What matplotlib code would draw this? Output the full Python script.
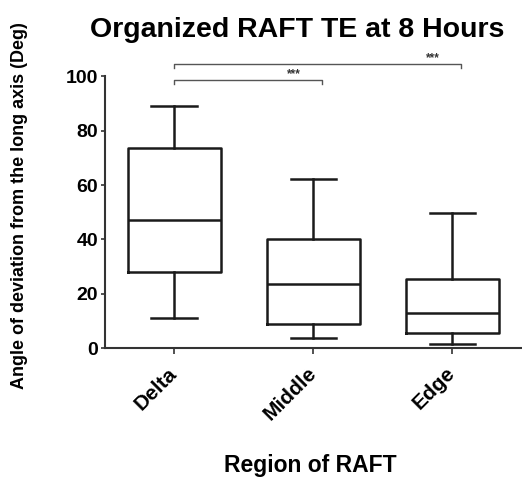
import matplotlib.pyplot as plt

# box statistics (degrees)
regions = ["Delta", "Middle", "Edge"]
whislo = [11.0, 3.7, 1.5]
q1 = [27.9, 8.8, 5.5]
med = [47.1, 23.5, 12.9]
q3 = [73.5, 40.1, 25.4]
whishi = [89.0, 62.1, 49.6]

# significance comparisons: (group a, group b, bar height)
comparisons = [(1, 2, 98.5), (1, 3, 104.4)]
sig_labels = ["***", "***"]

plt.rcParams["font.family"] = ["Liberation Sans", "DejaVu Sans"]

fig = plt.figure(figsize=(5.22, 4.87), dpi=100)
ax = fig.add_axes([0.201, 0.285, 0.799, 0.5585])

stats = []
for i, name in enumerate(regions):
    stats.append({
        "label": name,
        "whislo": whislo[i],
        "q1": q1[i],
        "med": med[i],
        "q3": q3[i],
        "whishi": whishi[i],
        "fliers": [],
    })

lw = 1.8
positions = [1, 2, 3]
ax.bxp(
    stats,
    positions=positions,
    widths=0.67,
    capwidths=0.33,
    showfliers=False,
    boxprops=dict(color="#1a1a1a", linewidth=lw),
    medianprops=dict(color="#1a1a1a", linewidth=lw),
    whiskerprops=dict(color="#1a1a1a", linewidth=lw),
    capprops=dict(color="#1a1a1a", linewidth=lw),
)

ax.set_xlim(0.5, 3.5)
ax.set_ylim(0, 100)
ax.set_yticks([0, 20, 40, 60, 80, 100])
ax.set_xticks(positions)
ax.set_xticklabels(regions, rotation=45, ha="right", va="center",
                   rotation_mode="anchor", fontsize=15, fontweight="bold")
for lab in ax.get_yticklabels():
    lab.set_fontsize(14)
    lab.set_fontweight("bold")

ax.spines["top"].set_visible(False)
ax.spines["right"].set_visible(False)
ax.spines["left"].set_linewidth(1.5)
ax.spines["bottom"].set_linewidth(1.5)
ax.spines["left"].set_color("#333333")
ax.spines["bottom"].set_color("#333333")
ax.tick_params(axis="y", length=3, width=1.2, color="#333333", pad=2)
ax.tick_params(axis="x", length=4, width=1.2, color="#333333", pad=12)

# significance bars
for (a, b, h), txt in zip(comparisons, sig_labels):
    ax.plot([a, a, b + 0.06, b + 0.06], [h - 1.2, h, h, h - 1.2],
            color="#555555", linewidth=1.0, clip_on=False)
    ax.text(b - 0.14, h + 0.2, txt, ha="center", va="bottom",
            fontsize=8.5, fontweight="bold", color="#333333")

fig.text(0.569, 0.939, "Organized RAFT TE at 8 Hours", ha="center", va="center",
         fontsize=20.5, fontweight="bold")
fig.text(0.037, 0.577, "Angle of deviation from the long axis (Deg)", rotation=90,
         ha="center", va="center", fontsize=13, fontweight="bold")
fig.text(0.594, 0.045, "Region of RAFT", ha="center", va="center",
         fontsize=16.5, fontweight="bold")

fig.savefig("out.png", dpi=100)
